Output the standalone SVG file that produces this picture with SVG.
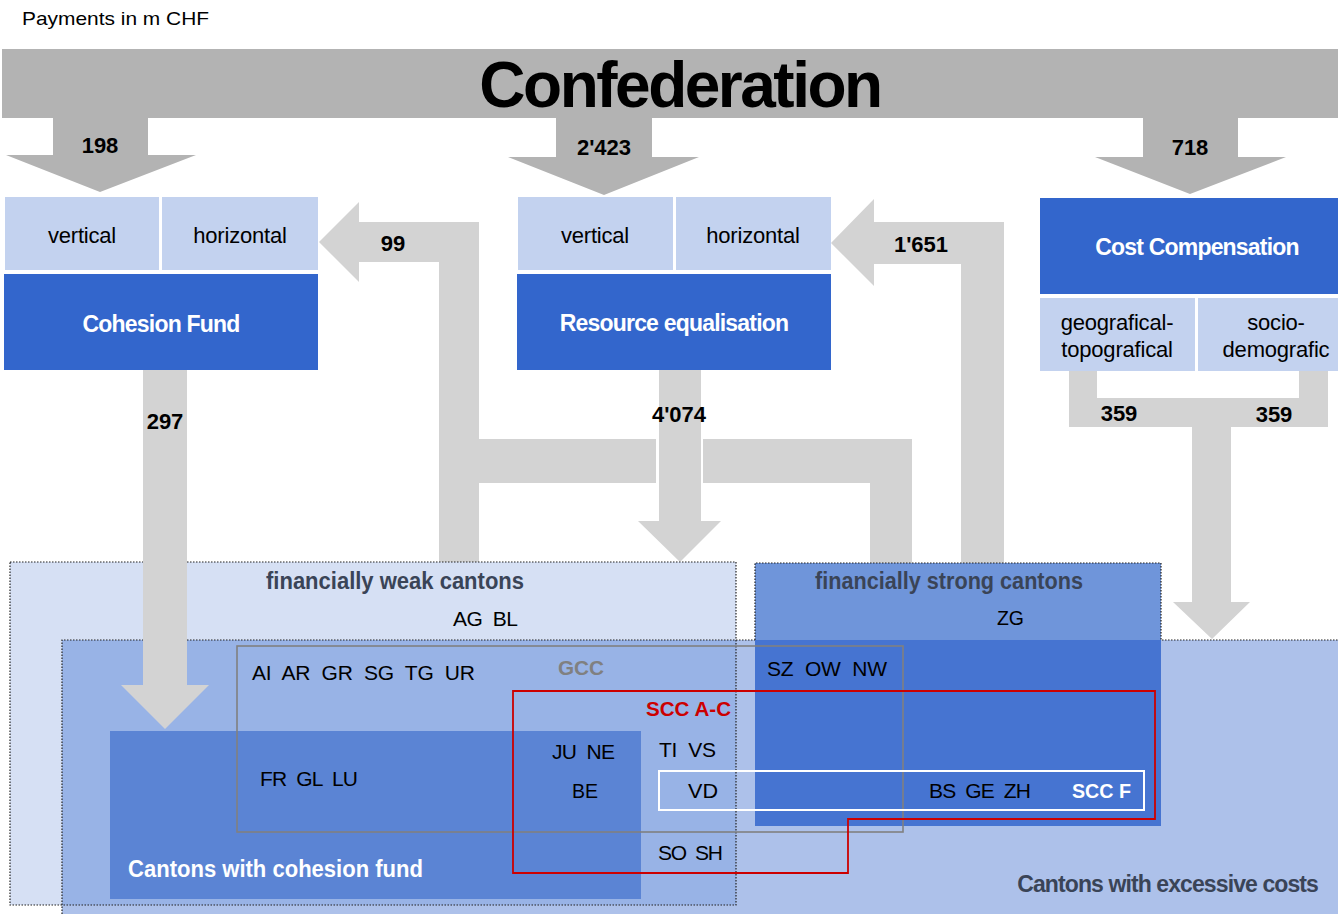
<svg xmlns="http://www.w3.org/2000/svg" width="1338" height="914" viewBox="0 0 1338 914" xml:space="preserve">
<style>
text{font-family:"Liberation Sans",Arial,sans-serif;white-space:pre}
.lbl{font-size:22px;font-weight:bold;fill:#000;text-anchor:middle;dominant-baseline:central}
.sub{fill:#c3d2ef}
.blue{fill:#3366cc}
.wt{font-size:23px;font-weight:bold;fill:#fff;text-anchor:middle;dominant-baseline:central;letter-spacing:-0.8px}
.bt{font-size:22px;fill:#000;text-anchor:middle;dominant-baseline:central;letter-spacing:-0.2px}
.ct{font-size:21px;fill:#000;dominant-baseline:central}
.hd{font-size:23px;font-weight:bold;fill:#3a4457;dominant-baseline:central}
.dg{fill:#b3b3b3}
.lg{fill:#d3d3d3}
</style>
<rect width="1338" height="914" fill="#fff"/>
<text x="22" y="18" font-size="19" dominant-baseline="central" fill="#000" textLength="187" lengthAdjust="spacingAndGlyphs">Payments in m CHF</text>

<g id="confederation">
<rect x="2" y="49" width="1336" height="69" class="dg"/>
<text x="680" y="107" font-size="64" font-weight="bold" text-anchor="middle" letter-spacing="-2.5" fill="#000">Confederation</text>
</g>

<g id="connectors">
<polygon class="dg" points="53,118 148,118 148,155 196,155 100,192 6,155 53,155"/>
<polygon class="dg" points="556,118 652,118 652,157 699,157 604,195 508,157 556,157"/>
<polygon class="dg" points="1143,118 1238,118 1238,157 1286,157 1190,194 1095,157 1143,157"/>
<polygon class="lg" points="319,242 359,202 359,222 479,222 479,439 656,439 656,483 479,483 479,563 439,563 439,262 359,262 359,282"/>
<polygon class="lg" points="703,439 912,439 912,563 870,563 870,483 703,483"/>
<polygon class="lg" points="831,243 874,199 874,222 1004,222 1004,563 961,563 961,264 874,264 874,286"/>
<polygon class="lg" points="659,370 701,370 701,521 721,521 680,562 638,521 659,521"/>
<polygon class="lg" points="1069,371 1097,371 1097,398 1299,398 1299,371 1328,371 1328,427 1231,427 1231,602 1250,602 1212,639 1173,602 1192,602 1192,427 1069,427"/>
<text class="lbl" x="100" y="145">198</text>
<text class="lbl" x="604" y="147">2'423</text>
<text class="lbl" x="1190" y="147">718</text>
<text class="lbl" x="393" y="243">99</text>
<text class="lbl" x="921" y="244">1'651</text>
<text class="lbl" x="679" y="414">4'074</text>
<text class="lbl" x="1119" y="413">359</text>
<text class="lbl" x="1274" y="414">359</text>
</g>

<g id="cohesion-fund">
<rect class="sub" x="5" y="197" width="154" height="73"/>
<rect class="sub" x="162" y="197" width="156" height="73"/>
<rect class="blue" x="4" y="274" width="314" height="96"/>
<text class="bt" x="82" y="235">vertical</text>
<text class="bt" x="240" y="235">horizontal</text>
<text class="wt" x="161" y="324">Cohesion Fund</text>
</g>

<g id="resource-equalisation">
<rect class="sub" x="518" y="197" width="155" height="73"/>
<rect class="sub" x="676" y="197" width="155" height="73"/>
<rect class="blue" x="517" y="274" width="314" height="96"/>
<text class="bt" x="595" y="235">vertical</text>
<text class="bt" x="753" y="235">horizontal</text>
<text class="wt" x="674" y="323">Resource equalisation</text>
</g>

<g id="cost-compensation">
<rect class="blue" x="1040" y="198" width="298" height="96"/>
<rect class="sub" x="1040" y="298" width="155" height="73"/>
<rect class="sub" x="1198" y="298" width="140" height="73"/>
<text class="wt" x="1197" y="247" font-size="23.5">Cost Compensation</text>
<text class="bt" x="1117" y="322">geografical-</text>
<text class="bt" x="1117" y="349">topografical</text>
<text class="bt" x="1276" y="322">socio-</text>
<text class="bt" x="1276" y="349">demografic</text>
</g>

<g id="financially-weak-cantons">
<rect x="10" y="562" width="726" height="343" fill="#d6e0f4"/>
</g>

<g id="cantons-excessive-costs">
<rect x="62" y="640" width="1276" height="274" fill="#adc1ea"/>
<rect x="62" y="640" width="674" height="265" fill="#98b3e6"/>
<path d="M62,914 V640 H1338" fill="none" stroke="#222" stroke-width="1.2" stroke-dasharray="1.5,1.5"/>
</g>
<g id="excessive-costs-label">
<text class="hd" x="1318" y="884" font-size="21.3" text-anchor="end" letter-spacing="-0.9">Cantons with excessive costs</text>
</g>

<g id="financially-strong-cantons">
<rect x="755" y="563" width="406" height="77" fill="#6f95da"/>
<rect x="755" y="640" width="406" height="186" fill="#4674d1"/>
<path d="M755,640 V563 H1161 V640" fill="none" stroke="#222" stroke-width="1.2" stroke-dasharray="1.5,1.5"/>
<text class="hd" x="815" y="581" textLength="268" lengthAdjust="spacingAndGlyphs">financially strong cantons</text>
<text class="ct" x="997" y="617" textLength="27" lengthAdjust="spacingAndGlyphs">ZG</text>
<text class="ct" x="767" y="668" textLength="120" lengthAdjust="spacing">SZ  OW  NW</text>
<text class="ct" x="929" y="790" textLength="102" lengthAdjust="spacing">BS  GE  ZH</text>
</g>

<g id="cantons-cohesion-fund">
<rect x="110" y="731" width="531" height="168" fill="#5b84d4"/>
<text x="128" y="869" font-size="23" font-weight="bold" fill="#fff" dominant-baseline="central" textLength="295" lengthAdjust="spacingAndGlyphs">Cantons with cohesion fund</text>
</g>

<g id="weak-border">
<rect x="10" y="562" width="726" height="343" fill="none" stroke="#222" stroke-width="1.2" stroke-dasharray="1.5,1.5"/>
<text class="hd" x="266" y="581" textLength="258" lengthAdjust="spacingAndGlyphs">financially weak cantons</text>
<text class="ct" x="453" y="618" textLength="65" lengthAdjust="spacing">AG  BL</text>
</g>

<g id="gcc">
<rect x="237" y="646" width="666" height="186" fill="none" stroke="#808080" stroke-width="1.6"/>
<text x="558" y="668" font-size="20" font-weight="bold" fill="#808080" dominant-baseline="central" textLength="46" lengthAdjust="spacingAndGlyphs">GCC</text>
<text class="ct" x="252" y="672" textLength="223" lengthAdjust="spacing">AI  AR  GR  SG  TG  UR</text>
<text class="ct" x="260" y="778" textLength="98" lengthAdjust="spacing">FR  GL  LU</text>
</g>

<g id="scc-a-c">
<polygon points="513,691 1155,691 1155,819 848,819 848,873 513,873" fill="none" stroke="#cc0000" stroke-width="1.8"/>
<text x="646" y="709" font-size="20" font-weight="bold" fill="#cc0000" dominant-baseline="central" textLength="85" lengthAdjust="spacingAndGlyphs">SCC A-C</text>
<text class="ct" x="552" y="751" textLength="63" lengthAdjust="spacing">JU  NE</text>
<text class="ct" x="572" y="790" textLength="26" lengthAdjust="spacingAndGlyphs">BE</text>
<text class="ct" x="659" y="749" textLength="57" lengthAdjust="spacing">TI  VS</text>
<text class="ct" x="658" y="852" textLength="65" lengthAdjust="spacing">SO  SH</text>
</g>

<g id="scc-f">
<rect x="659" y="771" width="485" height="39" fill="none" stroke="#fff" stroke-width="2"/>
<text class="ct" x="688" y="790" textLength="30" lengthAdjust="spacingAndGlyphs">VD</text>
<text x="1072" y="791" font-size="20" font-weight="bold" fill="#fff" dominant-baseline="central" textLength="59" lengthAdjust="spacingAndGlyphs">SCC F</text>
</g>

<g id="cohesion-arrow">
<polygon class="lg" points="143,370 187,370 187,685 209,685 165,729 121,685 143,685"/>
<text class="lbl" x="165" y="421">297</text>
</g>
</svg>
